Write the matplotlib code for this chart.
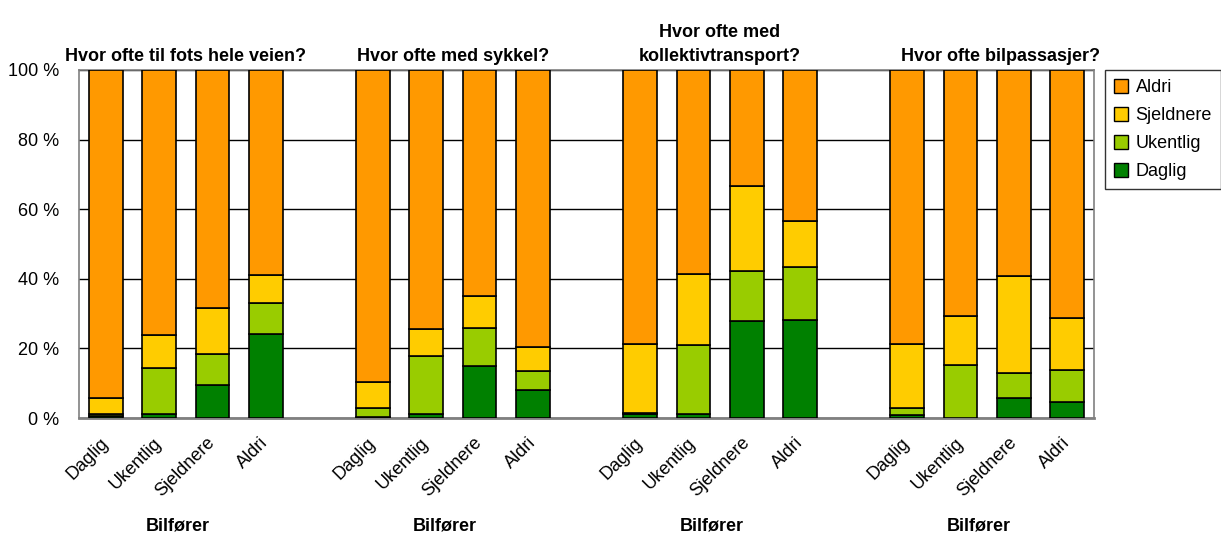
import numpy as np
import matplotlib.pyplot as plt
from matplotlib.patches import Patch

plt.rcParams['font.family'] = ['Liberation Sans', 'DejaVu Sans']

# Data (percent of respondents), order: fots, sykkel, kollektiv, bilpassasjer
titles = ['Hvor ofte til fots hele veien?', 'Hvor ofte med sykkel?',
          'Hvor ofte med\nkollektivtransport?', 'Hvor ofte bilpassasjer?']
categories = ['Daglig', 'Ukentlig', 'Sjeldnere', 'Aldri']
series_names = ['Daglig', 'Ukentlig', 'Sjeldnere', 'Aldri']
colors = ['#008000', '#99CC00', '#FFCC00', '#FF9900']

daglig = [0.5, 1.1, 9.5, 24.3,
          0.3, 1.1, 14.9, 8.0,
          1.2, 1.1, 28.0, 28.3,
          1.0, 0.0, 5.9, 4.7]
ukentlig = [0.7, 13.2, 9.0, 8.8,
            2.7, 16.6, 10.9, 5.6,
            0.4, 19.9, 14.2, 15.1,
            1.9, 15.3, 7.0, 9.0]
sjeldnere = [4.7, 9.6, 13.1, 8.1,
             7.5, 7.9, 9.2, 6.9,
             19.8, 20.4, 24.6, 13.2,
             18.5, 13.9, 28.0, 15.1]
aldri = [100 - d - u - s for d, u, s in zip(daglig, ukentlig, sjeldnere)]

# positions: 4 bars per group, one empty slot between groups
pos = np.array([g * 5 + i for g in range(4) for i in range(4)])

fig = plt.figure(figsize=(12.21, 5.34), dpi=100)
ax = fig.add_axes([0.0647, 0.217, 0.8313, 0.652])

bottom = np.zeros(len(pos))
for vals, c in zip([daglig, ukentlig, sjeldnere, aldri], colors):
    ax.bar(pos, vals, bottom=bottom, width=0.63, color=c, edgecolor='black', linewidth=1.2, zorder=3)
    bottom += np.array(vals)

ax.set_ylim(0, 100)
ax.set_xlim(-0.5, 18.5)
ax.set_yticks(range(0, 101, 20))
ax.set_yticklabels([f'{v} %' for v in range(0, 101, 20)], fontsize=13)
ax.yaxis.grid(True, color='black', linewidth=1, zorder=0)
ax.tick_params(axis='y', length=0, pad=14)
ax.tick_params(axis='x', length=0, pad=16)
ax.set_xticks(pos)
ax.set_xticklabels(categories * 4, rotation=45, ha='right', va='center',
                   rotation_mode='anchor', fontsize=13)
for s in ax.spines.values():
    s.set_color('gray')
    s.set_linewidth(1.2)
ax.spines['bottom'].set_linewidth(2)

title_shift = [0, 0, 0, 0.25]
for g in range(4):
    cx = g * 5 + 1.5
    ax.text(cx + title_shift[g], 101.5, titles[g], ha='center', va='bottom', fontsize=13,
            fontweight='bold', linespacing=1.5)
    ax.text(cx - 0.15, -31, 'Bilfører', ha='center', va='center', fontsize=13, fontweight='bold')

handles = [Patch(facecolor=c, edgecolor='black', label=n) for c, n in zip(colors, series_names)][::-1]
leg = fig.legend(handles=handles, loc='upper left', bbox_to_anchor=(0.905, 0.869),
                 fontsize=13, frameon=True, fancybox=False, edgecolor='black',
                 handlelength=0.8, handleheight=0.8, handletextpad=0.4, borderpad=0.5,
                 labelspacing=0.6, borderaxespad=0)
leg.get_frame().set_linewidth(1)

fig.savefig('out.png', dpi=100)
